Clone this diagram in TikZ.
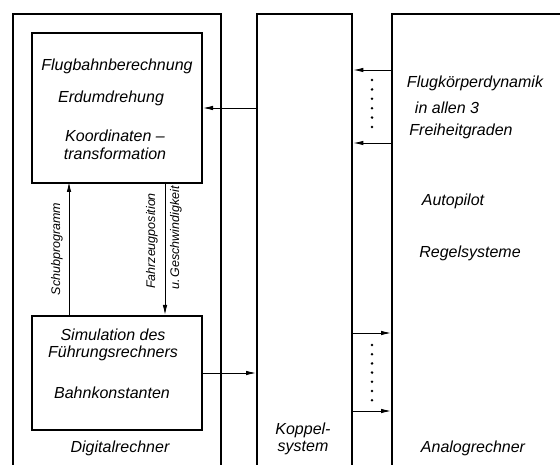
\documentclass[tikz,border=0pt]{standalone}
\usepackage{fontspec}
\setmainfont{Liberation Sans}
\usetikzlibrary{arrows.meta}
\begin{document}
\begin{tikzpicture}[x=1pt,y=-1pt,
  outer/.style={draw,line width=2.4pt,anchor=north west,inner sep=0pt},
  inner/.style={draw,line width=2pt,anchor=north west,inner sep=0pt},
  lbl/.style={font=\fontsize{16}{17.5}\selectfont\itshape,align=center,inner sep=0pt},
  vlbl/.style={font=\fontsize{12.5}{14}\selectfont\itshape,rotate=90,inner sep=0pt},
  arr/.style={line width=0.9pt,-{Latex[length=10pt,width=4.5pt]}},
  dot/.style={fill=black,inner sep=0pt,minimum size=2.8pt,circle}]
\useasboundingbox (0,0) rectangle (560,465);
% outer blocks (open at the bottom)
\node[outer,minimum width=208pt,minimum height=480pt] (dig) at (12,13) {};
\node[outer,minimum width=95pt,minimum height=480pt] (kop) at (256,13) {};
\node[outer,minimum width=220pt,minimum height=480pt] (ana) at (391,13) {};
% inner blocks
\node[inner,minimum width=170pt,minimum height=150pt] (top) at (31,32) {};
\node[inner,minimum width=170pt,minimum height=114pt] (bot) at (31,315) {};
% texts
\node[lbl] (t1) at (117,66) {Flugbahnberechnung};
\node[lbl] (t2) at (111,98) {Erdumdrehung};
\node[lbl] (t3) at (115,145) {Koordinaten –\\transformation};
\node[lbl] (b1) at (113,345) {Simulation des\\Führungsrechners};
\node[lbl] (b2) at (112,393) {Bahnkonstanten};
\node[lbl] (d) at (120,448) {Digitalrechner};
\node[lbl] (k) at (303,439) {Koppel-\\system};
\node[lbl] (a) at (473,448) {Analogrechner};
\node[lbl] (f1) at (475,83) {Flugkörperdynamik};
\node[lbl] (f2) at (447,108) {in allen 3};
\node[lbl] (f3) at (461,131) {Freiheitgraden};
\node[lbl] (ap) at (453,201) {Autopilot};
\node[lbl] (rs) at (470,253) {Regelsysteme};
% vertical arrows in digital computer
\coordinate (up1) at (69,315);
\coordinate (up2) at (69,182);
\coordinate (dn1) at (165,182);
\coordinate (dn2) at (165,315);
\draw[arr] (up1) -- (up2);
\draw[arr] (dn1) -- (dn2);
\node[vlbl] (s) at (57,249) {Schubprogramm};
\node[vlbl] (fp) at (152,241) {Fahrzeugposition};
\node[vlbl] (gs) at (176,238) {u.\,Geschwindigkeit};
% horizontal arrows
\draw[arr] (kop.west |- top.east) -- (top.east);
\draw[arr] (bot.east) -- (kop.west |- bot.east);
\coordinate (r1) at (391,70);
\coordinate (r2) at (391,143);
\coordinate (r3) at (351,333);
\coordinate (r4) at (351,411);
\draw[arr] (r1) -- (kop.east |- r1);
\draw[arr] (r2) -- (kop.east |- r2);
\draw[arr] (r3) -- (ana.west |- r3);
\draw[arr] (r4) -- (ana.west |- r4);
% dots
\foreach \y in {80,89.4,98.8,108.2,117.6,127} \node[dot] at (372,\y) {};
\foreach \y in {345,354.2,363.4,372.6,381.8,391,400.2} \node[dot] at (372,\y) {};
\end{tikzpicture}
\end{document}
